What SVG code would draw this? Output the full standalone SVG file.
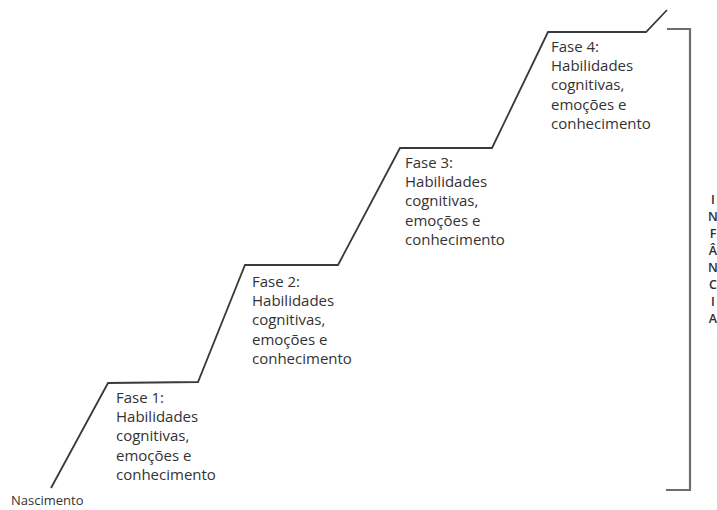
<svg xmlns="http://www.w3.org/2000/svg" width="717" height="510" viewBox="0 0 717 510">
  <style>
    .stair { fill: none; stroke: #3a3a3a; stroke-width: 1.8; stroke-linejoin: miter; }
    .bracket { fill: none; stroke: #6e6e6e; stroke-width: 2.2; }
    .phase { font-family: "Open Sans", "Liberation Sans", Arial, sans-serif; font-size: 15px; font-weight: 500; fill: #333333; }
    .side { font-family: "Open Sans", "Liberation Sans", Arial, sans-serif; font-size: 12.5px; font-weight: 600; fill: #2e2e2e; text-anchor: middle; }
    .base { font-family: "Open Sans", "Liberation Sans", Arial, sans-serif; font-size: 13px; font-weight: 500; fill: #333; }
  </style>
  <rect width="717" height="510" fill="#ffffff"/>

  <g id="connectors">
    <!-- rising staircase -->
    <polyline class="stair" points="51,488 108,383 198,382 245,265 338,265 400,148 492,148 548,32 646,32 667,10"/>
    <!-- bracket on the right -->
    <polyline class="bracket" points="667,29 690,29 690,490 666,490"/>
  </g>

  <g id="fase1">
    <text class="phase" x="116" y="403">Fase 1:</text>
    <text class="phase" x="116" y="422">Habilidades</text>
    <text class="phase" x="116" y="441">cognitivas,</text>
    <text class="phase" x="116" y="461">emoções e</text>
    <text class="phase" x="116" y="480">conhecimento</text>
  </g>

  <g id="fase2">
    <text class="phase" x="252" y="287">Fase 2:</text>
    <text class="phase" x="252" y="306">Habilidades</text>
    <text class="phase" x="252" y="325">cognitivas,</text>
    <text class="phase" x="252" y="345">emoções e</text>
    <text class="phase" x="252" y="364">conhecimento</text>
  </g>

  <g id="fase3">
    <text class="phase" x="405" y="168">Fase 3:</text>
    <text class="phase" x="405" y="187">Habilidades</text>
    <text class="phase" x="405" y="206">cognitivas,</text>
    <text class="phase" x="405" y="226">emoções e</text>
    <text class="phase" x="405" y="245">conhecimento</text>
  </g>

  <g id="fase4">
    <text class="phase" x="551" y="52">Fase 4:</text>
    <text class="phase" x="551" y="71">Habilidades</text>
    <text class="phase" x="551" y="90">cognitivas,</text>
    <text class="phase" x="551" y="110">emoções e</text>
    <text class="phase" x="551" y="129">conhecimento</text>
  </g>

  <g id="infancia">
    <text class="side" x="713" y="204">I</text>
    <text class="side" x="713" y="221">N</text>
    <text class="side" x="713" y="238">F</text>
    <text class="side" x="713" y="255">Â</text>
    <text class="side" x="713" y="272">N</text>
    <text class="side" x="713" y="289">C</text>
    <text class="side" x="713" y="306">I</text>
    <text class="side" x="713" y="323">A</text>
  </g>

  <g id="nascimento">
    <text class="base" x="11" y="505">Nascimento</text>
  </g>
</svg>
